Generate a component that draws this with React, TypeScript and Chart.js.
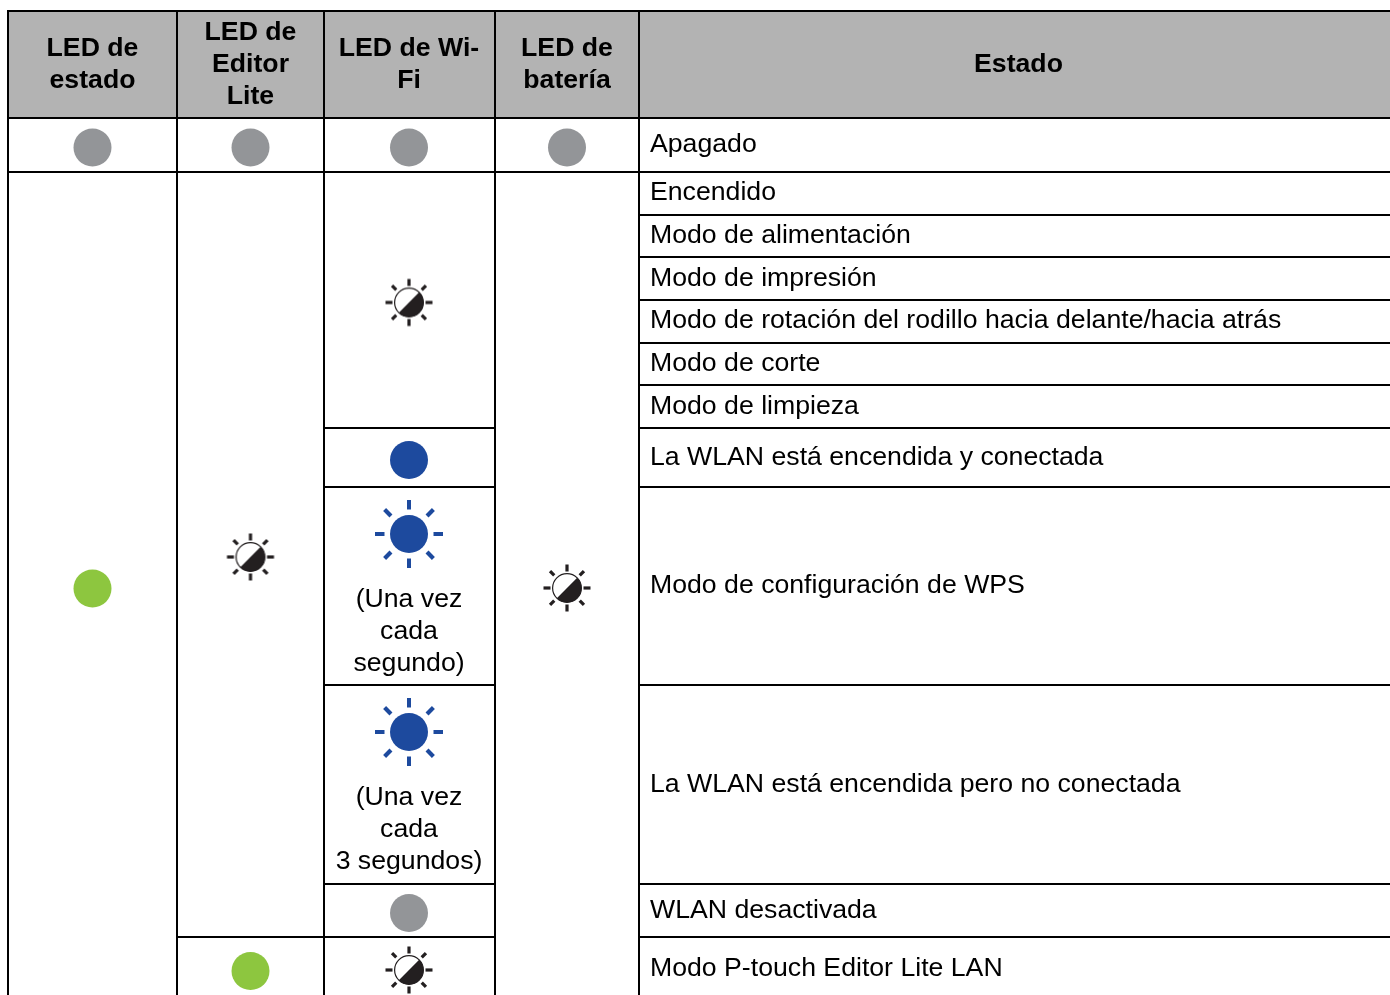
import React, { useEffect, useRef } from "react";
import { Chart, registerables } from "chart.js";

Chart.register(...registerables);

const WIDTH = 1390;
const HEIGHT = 995;

// Table structure
const columnEdges = [8, 177, 324, 495, 639];
const columnCenters = [92.5, 250.5, 409, 567, 650];
const headerTop = 11;
const headerBottom = 118;
const bottomEdge = 995;

const fullRules = [11, 118, 172];
const statusRules = [215, 257, 300, 343, 385];
const wifiRules = [428, 487, 685, 884];
const editorRule = 937;

// Header labels
const headerLabels = [
  ["LED de", "estado"],
  ["LED de", "Editor", "Lite"],
  ["LED de Wi-", "Fi"],
  ["LED de", "batería"],
  ["Estado"],
];
const headerMiddles = [65, 65, 65, 65, 65];

// Status labels
const statusLabels = [
  "Apagado",
  "Encendido",
  "Modo de alimentación",
  "Modo de impresión",
  "Modo de rotación del rodillo hacia delante/hacia atrás",
  "Modo de corte",
  "Modo de limpieza",
  "La WLAN está encendida y conectada",
  "Modo de configuración de WPS",
  "La WLAN está encendida pero no conectada",
  "WLAN desactivada",
  "Modo P-touch Editor Lite LAN",
];
const statusRows = [145, 193, 236, 279, 321, 364, 407, 458, 586, 785, 911, 969];

// Notes under the blinking LEDs
const noteLabels = [
  ["(Una vez", "cada", "segundo)"],
  ["(Una vez", "cada", "3 segundos)"],
];
const noteMiddles = [632, 830];

// LED marks: [column index, row]
const offLeds = [
  [0, 147.5],
  [1, 147.5],
  [2, 147.5],
  [3, 147.5],
  [2, 913],
];
const greenLeds = [
  [0, 588.5],
  [1, 971],
];
const blueLeds = [[2, 460]];
const blueBlinkLeds = [
  [2, 534],
  [2, 732],
];
const halfBlinkLeds = [
  [2, 302.5],
  [1, 557],
  [3, 588],
  [2, 970],
];

const HEADER_FILL = "#b3b3b3";
const RULE = "#000000";
const TEXT = "#000000";
const GREY = "#939598";
const GREEN = "#8dc63f";
const BLUE = "#1d4a9e";
const DARK = "#231f20";
const FONT = '"Liberation Sans", Arial, sans-serif';
const FONT_SIZE = 26.67;
const LINE_PITCH = 32;

function rayPaths(
  ctx: CanvasRenderingContext2D,
  c: number,
  r1: number,
  r2: number,
  d1: number,
  d2: number,
  wStraight: number,
  wDiag: number
) {
  for (let i = 0; i < 8; i++) {
    const a = (i * Math.PI) / 4;
    const diag = i % 2 === 1;
    const a1 = diag ? d1 : r1;
    const a2 = diag ? d2 : r2;
    ctx.lineWidth = diag ? wDiag : wStraight;
    ctx.beginPath();
    ctx.moveTo(c + Math.cos(a) * a1, c + Math.sin(a) * a1);
    ctx.lineTo(c + Math.cos(a) * a2, c + Math.sin(a) * a2);
    ctx.stroke();
  }
}

function blueSunSprite() {
  const s = 80;
  const c = s / 2;
  const el = document.createElement("canvas");
  el.width = s;
  el.height = s;
  const ctx = el.getContext("2d")!;
  ctx.strokeStyle = BLUE;
  rayPaths(ctx, c, 24.5, 34, 25.5, 34.5, 4, 4.2);
  ctx.fillStyle = BLUE;
  ctx.beginPath();
  ctx.arc(c, c, 19, 0, Math.PI * 2);
  ctx.fill();
  return el;
}

function halfSunSprite() {
  const s = 60;
  const c = s / 2;
  const el = document.createElement("canvas");
  el.width = s;
  el.height = s;
  const ctx = el.getContext("2d")!;
  ctx.strokeStyle = DARK;
  rayPaths(ctx, c, 16.5, 23.5, 18, 24, 3.2, 3.2);
  const r = 14.4;
  ctx.fillStyle = "#ffffff";
  ctx.beginPath();
  ctx.arc(c, c, r, 0, Math.PI * 2);
  ctx.fill();
  ctx.fillStyle = DARK;
  ctx.beginPath();
  ctx.arc(c, c, r, -Math.PI / 4, (3 * Math.PI) / 4);
  ctx.closePath();
  ctx.fill();
  ctx.lineWidth = 1.2;
  ctx.beginPath();
  ctx.arc(c, c, r, 0, Math.PI * 2);
  ctx.stroke();
  return el;
}

const toPoints = (list: number[][]) => list.map(([col, y]) => ({ x: columnCenters[col], y }));

function rule(x1: number, y1: number, x2: number, y2: number) {
  return {
    type: "line" as const,
    data: [
      { x: x1, y: y1 },
      { x: x2, y: y2 },
    ],
    borderColor: RULE,
    borderWidth: 2,
    pointRadius: 0,
    fill: false,
    tension: 0,
    order: 2,
    borderCapStyle: "square" as const,
  };
}

function ledSet(points: { x: number; y: number }[], color: string | null, sprite?: HTMLCanvasElement) {
  return {
    type: "scatter" as const,
    data: points,
    backgroundColor: color ?? "rgba(0,0,0,0)",
    borderColor: color ?? "rgba(0,0,0,0)",
    borderWidth: 0,
    pointRadius: 19,
    pointStyle: sprite ?? "circle",
    order: 1,
  };
}

const tablePlugin = {
  id: "tablePlugin",
  beforeDatasetsDraw(chart: any) {
    const { ctx, scales } = chart;
    const x = scales.x;
    const y = scales.y;
    ctx.save();
    ctx.fillStyle = "#ffffff";
    ctx.fillRect(0, 0, WIDTH, HEIGHT);
    ctx.fillStyle = HEADER_FILL;
    const x0 = x.getPixelForValue(columnEdges[0]);
    const y0 = y.getPixelForValue(headerTop);
    ctx.fillRect(x0, y0, x.getPixelForValue(WIDTH) - x0, y.getPixelForValue(headerBottom) - y0);
    ctx.restore();
  },
  afterDatasetsDraw(chart: any) {
    const { ctx, scales } = chart;
    const x = scales.x;
    const y = scales.y;
    ctx.save();
    ctx.fillStyle = TEXT;
    ctx.textBaseline = "middle";

    ctx.font = `bold ${FONT_SIZE}px ${FONT}`;
    ctx.textAlign = "center";
    headerLabels.forEach((lines, i) => {
      const cx = i === 4 ? (columnEdges[4] + WIDTH) / 2 + 4 : columnCenters[i];
      lines.forEach((line, j) => {
        const ly = headerMiddles[i] + (j - (lines.length - 1) / 2) * LINE_PITCH;
        ctx.fillText(line, x.getPixelForValue(cx), y.getPixelForValue(ly));
      });
    });

    ctx.font = `${FONT_SIZE}px ${FONT}`;
    noteLabels.forEach((lines, i) => {
      lines.forEach((line, j) => {
        const ly = noteMiddles[i] + (j - 1) * LINE_PITCH;
        ctx.fillText(line, x.getPixelForValue(columnCenters[2]), y.getPixelForValue(ly));
      });
    });

    ctx.textAlign = "left";
    statusLabels.forEach((label, i) => {
      ctx.fillText(label, x.getPixelForValue(columnCenters[4]), y.getPixelForValue(statusRows[i]));
    });
    ctx.restore();
  },
};

export default function App() {
  const ref = useRef<HTMLCanvasElement>(null);

  useEffect(() => {
    if (!ref.current) return;
    const [c0, c1, c2, c3, c4] = columnEdges;
    const datasets: any[] = [
      ...fullRules.map((r) => rule(c0, r, WIDTH, r)),
      ...columnEdges.map((c) => rule(c, headerTop, c, bottomEdge)),
      ...statusRules.map((r) => rule(c4, r, WIDTH, r)),
      ...wifiRules.map((r) => rule(c2, r, c3, r)),
      ...wifiRules.map((r) => rule(c4, r, WIDTH, r)),
      rule(c1, editorRule, c3, editorRule),
      rule(c4, editorRule, WIDTH, editorRule),
      ledSet(toPoints(offLeds), GREY),
      ledSet(toPoints(greenLeds), GREEN),
      ledSet(toPoints(blueLeds), BLUE),
      ledSet(toPoints(blueBlinkLeds), null, blueSunSprite()),
      ledSet(toPoints(halfBlinkLeds), null, halfSunSprite()),
    ];
    const chart = new Chart(ref.current, {
      type: "scatter",
      data: { datasets },
      options: {
        animation: false,
        responsive: false,
        maintainAspectRatio: false,
        layout: { padding: 0, autoPadding: false },
        clip: false,
        plugins: { legend: { display: false }, tooltip: { enabled: false }, title: { display: false } },
        scales: {
          x: { type: "linear", min: 0, max: WIDTH, display: false },
          y: { type: "linear", min: 0, max: HEIGHT, reverse: true, display: false },
        },
      } as any,
      plugins: [tablePlugin],
    });
    return () => chart.destroy();
  }, []);

  return (
    <canvas
      ref={ref}
      width={WIDTH}
      height={HEIGHT}
      style={{ position: "fixed", left: 0, top: 0, width: WIDTH, height: HEIGHT, display: "block" }}
    />
  );
}
